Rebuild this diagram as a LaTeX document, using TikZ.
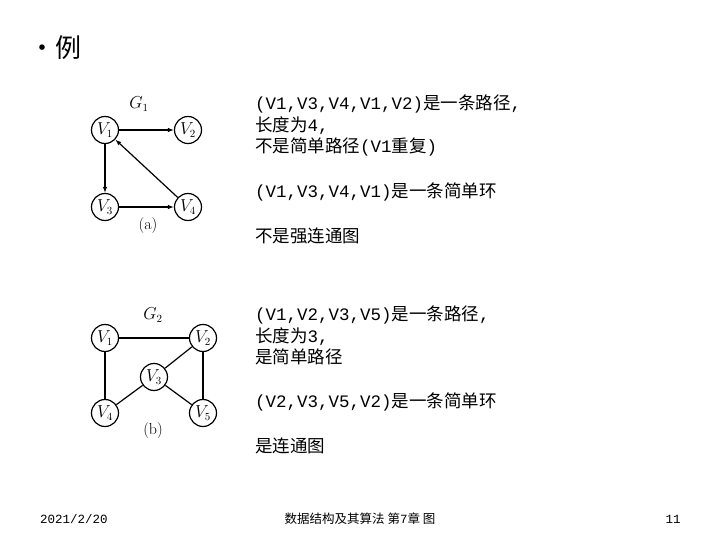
\documentclass[tikz,border=0pt]{standalone}
\usepackage{fontspec}
\setmonofont{Liberation Mono}
\newfontfamily\cjk{Noto Sans CJK SC}
\usetikzlibrary{arrows.meta}
\newcommand{\zh}[1]{{\cjk #1}}
\tikzset{
  vertex/.style={circle,draw,line width=1.2pt,minimum size=27pt,inner sep=0pt,
    font=\fontsize{16}{16}\selectfont},
  arc/.style={-{Latex[length=6pt,width=4.5pt]},line width=1.2pt},
  edge/.style={line width=1.2pt},
  caption/.style={font=\fontsize{16}{16}\selectfont},
  note/.style={anchor=base west,inner sep=0pt,font=\fontsize{17.5}{21}\selectfont\ttfamily},
  foot/.style={anchor=base,inner sep=0pt,font=\fontsize{12.5}{12.5}\selectfont\ttfamily}
}
\begin{document}
\begin{tikzpicture}[x=1pt,y=-1pt]
  \useasboundingbox (0,0) rectangle (720,540);
  % title
  \node[anchor=base west,inner sep=0pt,font=\fontsize{26}{26}\selectfont\cjk] (title) at (29,58) {•例};

  % graph G1 (directed)
  \node[vertex] (a1) at (105,130) {$V_1$};
  \node[vertex] (a2) at (188,130) {$V_2$};
  \node[vertex] (a3) at (105,207) {$V_3$};
  \node[vertex] (a4) at (188,207) {$V_4$};
  \node[caption] (g1) at (139,104) {$G_1$};
  \node[caption] (capa) at (148,226) {(a)};
  \draw[arc] (a1) -- (a2);
  \draw[arc] (a1) -- (a3);
  \draw[arc] (a3) -- (a4);
  \draw[arc] (a4) -- (a1);

  % graph G2 (undirected)
  \node[vertex] (b1) at (105,338) {$V_1$};
  \node[vertex] (b2) at (203,338) {$V_2$};
  \node[vertex] (b3) at (154,377) {$V_3$};
  \node[vertex] (b4) at (105,413) {$V_4$};
  \node[vertex] (b5) at (203,413) {$V_5$};
  \node[caption] (g2) at (153,315) {$G_2$};
  \node[caption] (capb) at (153,431) {(b)};
  \draw[edge] (b1) -- (b2);
  \draw[edge] (b1) -- (b4);
  \draw[edge] (b2) -- (b3);
  \draw[edge] (b2) -- (b5);
  \draw[edge] (b3) -- (b4);
  \draw[edge] (b3) -- (b5);

  % remarks on G1
  \node[note] (pa1) at (255,110) {(V1,V3,V4,V1,V2)\zh{是一条路径},};
  \node[note] (pa2) at (255,132) {\zh{长度为}4,};
  \node[note] (pa3) at (255,153) {\zh{不是简单路径}(V1\zh{重复})};
  \node[note] (pa4) at (255,197) {(V1,V3,V4,V1)\zh{是一条简单环}};
  \node[note] (pa5) at (255,243) {\zh{不是强连通图}};

  % remarks on G2
  \node[note] (pb1) at (255,320) {(V1,V2,V3,V5)\zh{是一条路径},};
  \node[note] (pb2) at (255,342) {\zh{长度为}3,};
  \node[note] (pb3) at (255,363) {\zh{是简单路径}};
  \node[note] (pb4) at (255,407) {(V2,V3,V5,V2)\zh{是一条简单环}};
  \node[note] (pb5) at (255,452) {\zh{是连通图}};

  % footer
  \node[foot] (date) at (74,523) {2021/2/20};
  \node[foot] (course) at (360,523) {\zh{数据结构及其算法 第}7\zh{章 图}};
  \node[foot] (page) at (673,523) {11};
\end{tikzpicture}
\end{document}
